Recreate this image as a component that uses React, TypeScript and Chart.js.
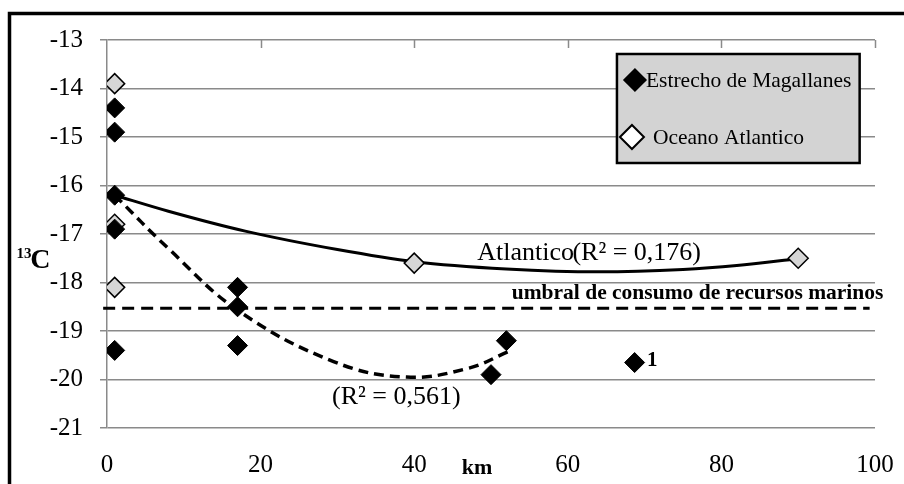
import React, { useEffect, useRef } from "react";
import { Chart, registerables } from "chart.js";

Chart.register(...registerables);

// ---- data ----
const xTickValues = [0, 20, 40, 60, 80, 100];
const yTickValues = [-21, -20, -19, -18, -17, -16, -15, -14, -13];

const estrechoKm = [1, 1, 1, 1, 1, 17, 17, 17, 50, 52, 68.7];
const estrechoC13 = [-14.4, -14.9, -16.2, -16.9, -19.4, -18.1, -18.5, -19.3, -19.9, -19.2, -19.65];

const atlanticoKm = [1, 1, 1, 40, 90];
const atlanticoC13 = [-13.9, -16.8, -18.1, -17.6, -17.5];

const atlTrendKm = [1, 8, 18, 30, 40, 52, 64, 75, 82, 90];
const atlTrendC13 = [-16.2, -16.53, -16.94, -17.32, -17.57, -17.72, -17.78, -17.73, -17.65, -17.51];

const magTrendKm = [1, 8, 17, 29.5, 39, 47, 52.2];
const magTrendC13 = [-16.2, -17.3, -18.57, -19.63, -19.95, -19.77, -19.43];

const umbralKm = [-0.5, 99.3];
const umbralC13 = [-18.53, -18.53];

const seriesNames = ["Estrecho de Magallanes", "Oceano Atlantico"];
const atlLabelA = "Atlantico";
const atlLabelB = "(R² = 0,176)";
const magLabel = "(R² = 0,561)";
const umbralLabel = "umbral de consumo de recursos marinos";
const pointLabel = "1";
const xTitle = "km";
const yTitleSup = "13";
const yTitle = "C";

const SERIF = '"Liberation Serif", "Times New Roman", serif';

const zip = (xs: number[], ys: number[]) => xs.map((x, i) => ({ x, y: ys[i] }));

function diamond(ctx: CanvasRenderingContext2D, x: number, y: number, r: number) {
  ctx.beginPath();
  ctx.moveTo(x - r, y);
  ctx.lineTo(x, y - r);
  ctx.lineTo(x + r, y);
  ctx.lineTo(x, y + r);
  ctx.closePath();
}

const decor = {
  id: "decor",
  beforeDraw(chart: any) {
    const ctx = chart.ctx as CanvasRenderingContext2D;
    ctx.save();
    ctx.fillStyle = "#fff";
    ctx.fillRect(0, 0, chart.width, chart.height);
    ctx.strokeStyle = "#000";
    ctx.lineWidth = 3.5;
    ctx.beginPath();
    ctx.moveTo(9.5, chart.height + 5);
    ctx.lineTo(9.5, 13.5);
    ctx.lineTo(chart.width + 5, 13.5);
    ctx.stroke();
    ctx.restore();
  },
  afterDraw(chart: any) {
    const ctx = chart.ctx as CanvasRenderingContext2D;
    const xs = chart.scales.x;
    const ys = chart.scales.y;
    const area = chart.chartArea;
    const X = (v: number) => xs.getPixelForValue(v);
    const Y = (v: number) => ys.getPixelForValue(v);
    ctx.save();

    // top tick marks
    ctx.strokeStyle = "#8a8a8a";
    ctx.lineWidth = 1.5;
    xTickValues.slice(1).forEach((v) => {
      const px = Math.round(X(v)) + 0.5;
      ctx.beginPath();
      ctx.moveTo(px, area.top);
      ctx.lineTo(px, area.top + 8);
      ctx.stroke();
    });

    // annotations
    ctx.fillStyle = "#000";
    ctx.textBaseline = "alphabetic";
    ctx.textAlign = "left";
    ctx.font = `26px ${SERIF}`;
    ctx.fillText(atlLabelA, X(48.2), Y(-17.54));
    ctx.fillText(atlLabelB, X(60.6), Y(-17.54));
    ctx.fillText(magLabel, X(29.3), Y(-20.5));

    ctx.font = `bold 21.5px ${SERIF}`;
    ctx.fillText(umbralLabel, X(52.7), Y(-18.34));

    ctx.textBaseline = "middle";
    ctx.font = `bold 21px ${SERIF}`;
    ctx.fillText(pointLabel, X(70.3), Y(-19.62));

    ctx.font = `bold 22px ${SERIF}`;
    ctx.fillText(xTitle, X(46.2), area.bottom + 40);

    ctx.textBaseline = "alphabetic";
    ctx.font = `bold 28px ${SERIF}`;
    ctx.fillText(yTitle, X(-10), Y(-17.7));
    ctx.font = `bold 15px ${SERIF}`;
    ctx.fillText(yTitleSup, X(-11.8), Y(-17.5));

    // legend box
    const lx = X(66.4), rx = X(98), ty = area.top + 14, by = area.top + 123;
    ctx.fillStyle = "#d3d3d3";
    ctx.fillRect(lx, ty, rx - lx, by - ty);
    ctx.strokeStyle = "#000";
    ctx.lineWidth = 2.5;
    ctx.strokeRect(lx, ty, rx - lx, by - ty);

    const ds0 = chart.data.datasets[0];
    const ds1 = chart.data.datasets[1];
    ctx.lineWidth = 1.5;
    diamond(ctx, lx + 18, ty + 26, 11);
    ctx.fillStyle = ds0.backgroundColor;
    ctx.fill();
    ctx.strokeStyle = ds0.borderColor;
    ctx.stroke();
    diamond(ctx, lx + 15, ty + 83, 12);
    ctx.fillStyle = "#fff";
    ctx.fill();
    ctx.lineWidth = 2;
    ctx.strokeStyle = ds1.borderColor;
    ctx.stroke();

    ctx.fillStyle = "#000";
    ctx.textBaseline = "middle";
    ctx.font = `21.5px ${SERIF}`;
    ctx.fillText(ds0.label, lx + 29, ty + 27);
    ctx.fillText(ds1.label, lx + 36, ty + 84);
    ctx.restore();
  },
};

export default function App() {
  const ref = useRef<HTMLCanvasElement | null>(null);

  useEffect(() => {
    if (!ref.current) return;
    const chart = new Chart(ref.current, {
      type: "scatter",
      data: {
        datasets: [
          {
            label: seriesNames[0],
            data: zip(estrechoKm, estrechoC13),
            pointStyle: "rectRot",
            pointRadius: 10,
            backgroundColor: "#000",
            borderColor: "#000",
            borderWidth: 1,
            order: 0,
          },
          {
            label: seriesNames[1],
            data: zip(atlanticoKm, atlanticoC13),
            pointStyle: "rectRot",
            pointRadius: 10,
            backgroundColor: "#d6d6d6",
            borderColor: "#000",
            borderWidth: 1.5,
            order: 1,
          },
          {
            label: "Atlantico trend",
            data: zip(atlTrendKm, atlTrendC13),
            showLine: true,
            pointRadius: 0,
            borderColor: "#000",
            borderWidth: 3,
            cubicInterpolationMode: "monotone",
            order: 2,
          },
          {
            label: "Magallanes trend",
            data: zip(magTrendKm, magTrendC13),
            showLine: true,
            pointRadius: 0,
            borderColor: "#000",
            borderWidth: 3.5,
            borderDash: [10, 6],
            tension: 0.4,
            order: 2,
          },
          {
            label: "umbral",
            data: zip(umbralKm, umbralC13),
            showLine: true,
            pointRadius: 0,
            borderColor: "#000",
            borderWidth: 3,
            borderDash: [12, 7],
            clip: false as any,
            order: 3,
          },
        ],
      },
      options: {
        responsive: false,
        animation: false,
        devicePixelRatio: 1,
        layout: { padding: { left: 0, top: 40, right: 29, bottom: 0 } },
        plugins: { legend: { display: false }, tooltip: { enabled: false } },
        scales: {
          x: {
            type: "linear",
            min: 0,
            max: 100,
            afterBuildTicks: (s: any) => {
              s.ticks = xTickValues.map((v) => ({ value: v }));
            },
            afterFit: (s: any) => {
              s.height = 56;
              s.paddingLeft = 0;
              s.paddingRight = 0;
            },
            grid: { display: false, drawTicks: false },
            border: { display: false },
            ticks: {
              padding: 22,
              color: "#000",
              font: { family: SERIF, size: 25 },
              maxRotation: 0,
            },
          },
          y: {
            type: "linear",
            min: -21,
            max: -13,
            afterBuildTicks: (s: any) => {
              s.ticks = yTickValues.map((v) => ({ value: v }));
            },
            afterFit: (s: any) => {
              s.width = 107;
              s.paddingTop = 0;
              s.paddingBottom = 0;
            },
            grid: { color: "#8a8a8a", lineWidth: 1.5, tickLength: 7, drawTicks: true },
            border: { display: true, color: "#8a8a8a", width: 1.5 },
            ticks: {
              padding: 17,
              color: "#000",
              font: { family: SERIF, size: 25 },
              callback: (v: any) => String(v),
            },
          },
        },
      },
      plugins: [decor],
    });
    return () => chart.destroy();
  }, []);

  return (
    <div style={{ position: "fixed", left: 0, top: 0, width: 904, height: 484, background: "#fff" }}>
      <canvas ref={ref} width={904} height={484} style={{ display: "block" }} />
    </div>
  );
}
